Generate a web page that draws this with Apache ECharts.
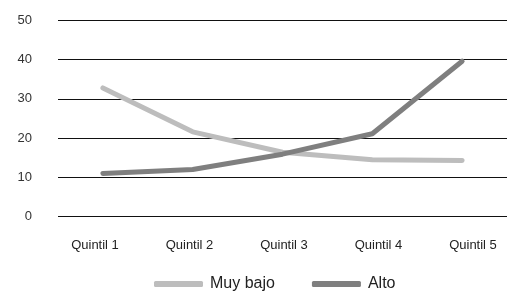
<!DOCTYPE html>
<html><head><meta charset="utf-8">
<script src="https://cdn.jsdelivr.net/npm/echarts@6/dist/echarts.min.js"></script>
<style>html,body{margin:0;padding:0;background:#fff}#c{width:516px;height:304px}</style>
</head><body><div id="c"></div>
<script>
const categories = ['Quintil 1','Quintil 2','Quintil 3','Quintil 4','Quintil 5'];
const muyBajo = [32.8, 21.6, 16.4, 14.5, 14.3];
const alto = [11.0, 12.0, 15.9, 21.1, 39.6];
const yTicks = [0, 10, 20, 30, 40, 50];

const chart = echarts.init(document.getElementById('c'), null, {renderer:'canvas'});
const font = 'Helvetica, Arial, "Liberation Sans", sans-serif';
chart.setOption({
  animation: false,
  backgroundColor: '#fff',
  grid: [
    {left: 58, right: 9, top: 20.5, bottom: 304 - 216.5},
    {left: 95, right: 43, top: 20.5, bottom: 304 - 216.5}
  ],
  xAxis: [
    {type: 'category', gridIndex: 0, data: categories, boundaryGap: true,
     axisLine: {show: false}, axisTick: {show: false}, axisLabel: {show: false}},
    {type: 'category', gridIndex: 1, data: categories, boundaryGap: false,
     axisLine: {show: false}, axisTick: {show: false},
     axisLabel: {show: true, margin: 22, color: '#222', fontSize: 13, fontFamily: font}}
  ],
  yAxis: [
    {type: 'value', gridIndex: 0, min: yTicks[0], max: yTicks[yTicks.length-1], interval: 10,
     axisLine: {show: false}, axisTick: {show: false},
     axisLabel: {margin: 26, color: '#333', fontSize: 13, fontFamily: font, padding: [3,0,0,0]},
     splitLine: {lineStyle: {color: '#111', width: 1}}},
    {type: 'value', gridIndex: 1, min: 0, max: 50, show: false}
  ],
  legend: {
    top: 276, left: 154, itemWidth: 49, itemHeight: 6, itemGap: 37,
    icon: 'roundRect', padding: 0,
    textStyle: {color: '#222', fontSize: 16, fontFamily: font, padding: [0,0,0,2]},
    data: ['Muy bajo', 'Alto']
  },
  series: [
    {name: 'Muy bajo', type: 'line', xAxisIndex: 0, yAxisIndex: 0, data: muyBajo,
     symbol: 'none', lineStyle: {color: '#bdbdbd', width: 5, cap: 'round', join: 'round'},
     itemStyle: {color: '#bdbdbd'}},
    {name: 'Alto', type: 'line', xAxisIndex: 0, yAxisIndex: 0, data: alto,
     symbol: 'none', lineStyle: {color: '#7f7f7f', width: 5, cap: 'round', join: 'round'},
     itemStyle: {color: '#7f7f7f'}}
  ]
});
</script></body></html>
